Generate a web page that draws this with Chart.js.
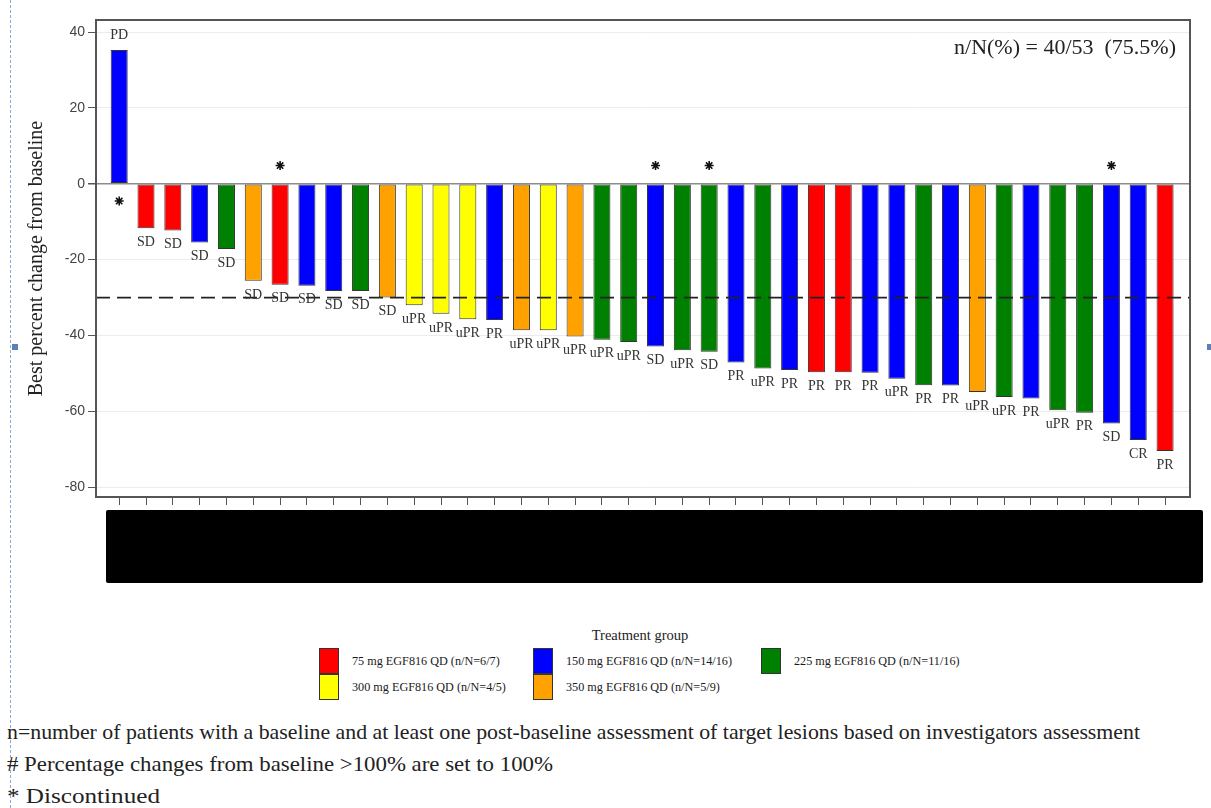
<!DOCTYPE html>
<html>
<head>
<meta charset="utf-8">
<title>Best percent change from baseline</title>
<script src="https://cdn.jsdelivr.net/npm/chart.js@4.4.1/dist/chart.umd.min.js"></script>
<style>
  body { margin: 0; background: #fff; }
  #page {
    position: relative; width: 1211px; height: 808px; overflow: hidden;
    font-family: "Liberation Serif", "DejaVu Serif", serif; color: #222;
  }
  #waterfall { position: absolute; left: 0; top: 0; }
  #redacted {
    position: absolute; left: 106px; top: 510px; width: 1097px; height: 73px;
    background: #000; border-radius: 2px;
  }
  #selection {
    position: absolute; left: 10px; top: 0; height: 808px;
    border-left: 1px dashed #8fa9d2;
  }
  .handle { position: absolute; width: 6px; height: 6px; background: #5b7fb9; }
  .legend-title { position: absolute; left: 540px; width: 200px; top: 627px; text-align: center; font-size: 14.5px; }
  .swatch { position: absolute; width: 20px; height: 26px; box-sizing: border-box; border: 1px solid #333; }
  .legend-text { position: absolute; font-size: 12.2px; line-height: 16px; white-space: nowrap; color: #1a1a1a; }
  .note {
    position: absolute; left: 7px; font-size: 22px; line-height: 24px; white-space: nowrap;
    color: #222; transform-origin: 0 50%;
  }
</style>
</head>
<body>
<div id="page">
  <div id="selection"></div>
  <div class="handle" style="left:12px;top:344px"></div>
  <div class="handle" style="left:1207px;top:344px"></div>
  <canvas id="waterfall" width="1211" height="520"></canvas>
  <div id="redacted"></div>
  <div id="legend"></div>
  <div class="note" data-fit="1133" style="top:720px">n=number of patients with a baseline and at least one post-baseline assessment of target lesions based on investigators assessment</div>
  <div class="note" data-fit="546" style="top:752px"># Percentage changes from baseline &gt;100% are set to 100%</div>
  <div class="note" data-fit="153" style="top:784px">* Discontinued</div>
</div>
<script>
// patients, sorted by best percent change from baseline
const patients = [1, 2, 3, 4, 5, 6, 7, 8, 9, 10, 11, 12, 13, 14, 15, 16, 17, 18, 19, 20,
  21, 22, 23, 24, 25, 26, 27, 28, 29, 30, 31, 32, 33, 34, 35, 36, 37, 38, 39, 40];
const bestChange = [35.3, -11.7, -12.3, -15.5, -17.2, -25.6, -26.6, -26.9, -28.3, -28.3,
  -30.0, -32.0, -34.3, -35.7, -35.9, -38.6, -38.6, -40.3, -41.1, -41.7,
  -42.9, -43.9, -44.3, -47.1, -48.7, -49.1, -49.7, -49.7, -49.8, -51.4,
  -53.1, -53.2, -54.9, -56.2, -56.6, -59.7, -60.4, -63.2, -67.6, -70.5];
const doseGroup = [150, 75, 75, 150, 225, 350, 75, 150, 150, 225,
  350, 300, 300, 300, 150, 350, 300, 350, 225, 225,
  150, 225, 225, 150, 225, 150, 75, 75, 150, 150,
  225, 150, 350, 225, 150, 225, 225, 150, 150, 75];
const response = ['PD', 'SD', 'SD', 'SD', 'SD', 'SD', 'SD', 'SD', 'SD', 'SD',
  'SD', 'uPR', 'uPR', 'uPR', 'PR', 'uPR', 'uPR', 'uPR', 'uPR', 'uPR',
  'SD', 'uPR', 'SD', 'PR', 'uPR', 'PR', 'PR', 'PR', 'PR', 'uPR',
  'PR', 'PR', 'uPR', 'uPR', 'PR', 'uPR', 'PR', 'SD', 'CR', 'PR'];
const discontinued = [1, 7, 21, 23, 38];

const groupDoses = [75, 150, 225, 300, 350];
const groupNames = ['75 mg EGF816 QD (n/N=6/7)', '150 mg EGF816 QD (n/N=14/16)',
  '225 mg EGF816 QD (n/N=11/16)', '300 mg EGF816 QD (n/N=4/5)', '350 mg EGF816 QD (n/N=5/9)'];
const groupColors = ['#ff0000', '#0000ff', '#008000', '#ffff00', '#ffa200'];

const yTicks = [40, 20, 0, -20, -40, -60, -80];
const threshold = -30;
const summaryText = 'n/N(%) = 40/53  (75.5%)';

const colorOf = (dose) => groupColors[groupDoses.indexOf(dose)];

// footnotes: stretch to the width they take in the original
document.querySelectorAll('.note').forEach((el) => {
  const target = Number(el.dataset.fit);
  const w = el.getBoundingClientRect().width;
  if (w > 0) el.style.transform = `scaleX(${target / w})`;
});

// legend (Treatment group)
const legend = document.getElementById('legend');
legend.innerHTML = '<div class="legend-title">Treatment group</div>';
const colX = [319, 533, 761];
const rowY = [648, 674];
groupNames.forEach((name, i) => {
  const col = i < 3 ? i : i - 3;
  const row = i < 3 ? 0 : 1;
  const sw = document.createElement('div');
  sw.className = 'swatch';
  sw.style.left = colX[col] + 'px';
  sw.style.top = rowY[row] + 'px';
  sw.style.background = groupColors[i];
  legend.appendChild(sw);
  const tx = document.createElement('div');
  tx.className = 'legend-text';
  tx.style.left = (colX[col] + 33) + 'px';
  tx.style.top = (rowY[row] + 5) + 'px';
  tx.textContent = name;
  legend.appendChild(tx);
});

function drawStar(ctx, x, y, r) {
  ctx.save();
  ctx.strokeStyle = '#111';
  ctx.lineWidth = 1.6;
  ctx.beginPath();
  for (let k = 0; k < 4; k++) {
    const a = k * Math.PI / 4;
    ctx.moveTo(x - r * Math.cos(a), y - r * Math.sin(a));
    ctx.lineTo(x + r * Math.cos(a), y + r * Math.sin(a));
  }
  ctx.stroke();
  ctx.restore();
}

const barNotes = {
  id: 'barNotes',
  afterDatasetsDraw(chart) {
    const ctx = chart.ctx;
    const area = chart.chartArea;
    const yScale = chart.scales.y;

    // -30% reference line
    const ty = yScale.getPixelForValue(threshold);
    ctx.save();
    ctx.strokeStyle = '#222';
    ctx.lineWidth = 1.8;
    ctx.setLineDash([14, 7]);
    ctx.beginPath();
    ctx.moveTo(area.left, ty);
    ctx.lineTo(area.right, ty);
    ctx.stroke();
    ctx.restore();

    // response labels and discontinued marks
    const bars = chart.getDatasetMeta(0).data;
    ctx.save();
    ctx.font = '14px "Liberation Serif"';
    ctx.fillStyle = '#333';
    ctx.textAlign = 'center';
    ctx.textBaseline = 'middle';
    bars.forEach((bar, i) => {
      const up = bestChange[i] >= 0;
      ctx.fillText(response[i], bar.x, up ? bar.y - 15 : bar.y + 14);
      if (discontinued.includes(patients[i])) {
        drawStar(ctx, bar.x, up ? bar.base + 18 : bar.base - 19, 4.5);
      }
    });

    // summary text
    ctx.font = '22px "Liberation Serif"';
    ctx.fillStyle = '#222';
    ctx.textAlign = 'right';
    ctx.fillText(summaryText, area.right - 14, area.top + 28);

    // frame
    ctx.strokeStyle = '#555';
    ctx.lineWidth = 2;
    ctx.strokeRect(area.left, area.top, area.right - area.left, area.bottom - area.top);
    ctx.restore();
  }
};

const ctx = document.getElementById('waterfall').getContext('2d');
new Chart(ctx, {
  type: 'bar',
  data: {
    datasets: [{
      data: patients.map((p, i) => ({ x: p, y: bestChange[i] })),
      backgroundColor: doseGroup.map(colorOf),
      borderColor: '#333',
      borderWidth: 1,
      borderSkipped: false,
      categoryPercentage: 1,
      barPercentage: 0.635,
    }]
  },
  options: {
    responsive: false,
    animation: false,
    devicePixelRatio: 1,
    layout: { padding: { top: 20, right: 21, left: 0, bottom: 0 } },
    plugins: {
      legend: { display: false },
      tooltip: { enabled: false },
    },
    scales: {
      x: {
        type: 'linear',
        offset: false,
        min: 0.135,
        max: 40.93,
        afterBuildTicks: (scale) => { scale.ticks = patients.map((p) => ({ value: p })); },
        afterFit: (scale) => { scale.height = 23; },
        ticks: { autoSkip: false, maxRotation: 0, callback: () => '' },
        grid: { offset: false, drawOnChartArea: false, tickLength: 8, tickColor: '#555', color: '#555' },
        border: { display: true, color: '#555', width: 2 },
      },
      y: {
        min: -82.6,
        max: 43.2,
        afterBuildTicks: (scale) => { scale.ticks = yTicks.map((v) => ({ value: v })); },
        afterFit: (scale) => { scale.width = 96; },
        ticks: {
          color: '#444',
          padding: 3,
          font: { family: '"Liberation Sans Narrow", "Liberation Sans"', size: 14 },
        },
        grid: {
          color: (c) => (c.tick && c.tick.value === 0 ? '#8c8c8c' : '#ececec'),
          lineWidth: (c) => (c.tick && c.tick.value === 0 ? 1.5 : 1),
          tickColor: '#555',
          tickLength: 8,
        },
        border: { display: true, color: '#555', width: 2 },
        title: {
          display: true,
          text: 'Best percent change from baseline',
          color: '#222',
          font: { family: '"Liberation Serif"', size: 20 },
          padding: { top: 25, bottom: 0 },
        },
      },
    },
  },
  plugins: [barNotes],
});
</script>
</body>
</html>
